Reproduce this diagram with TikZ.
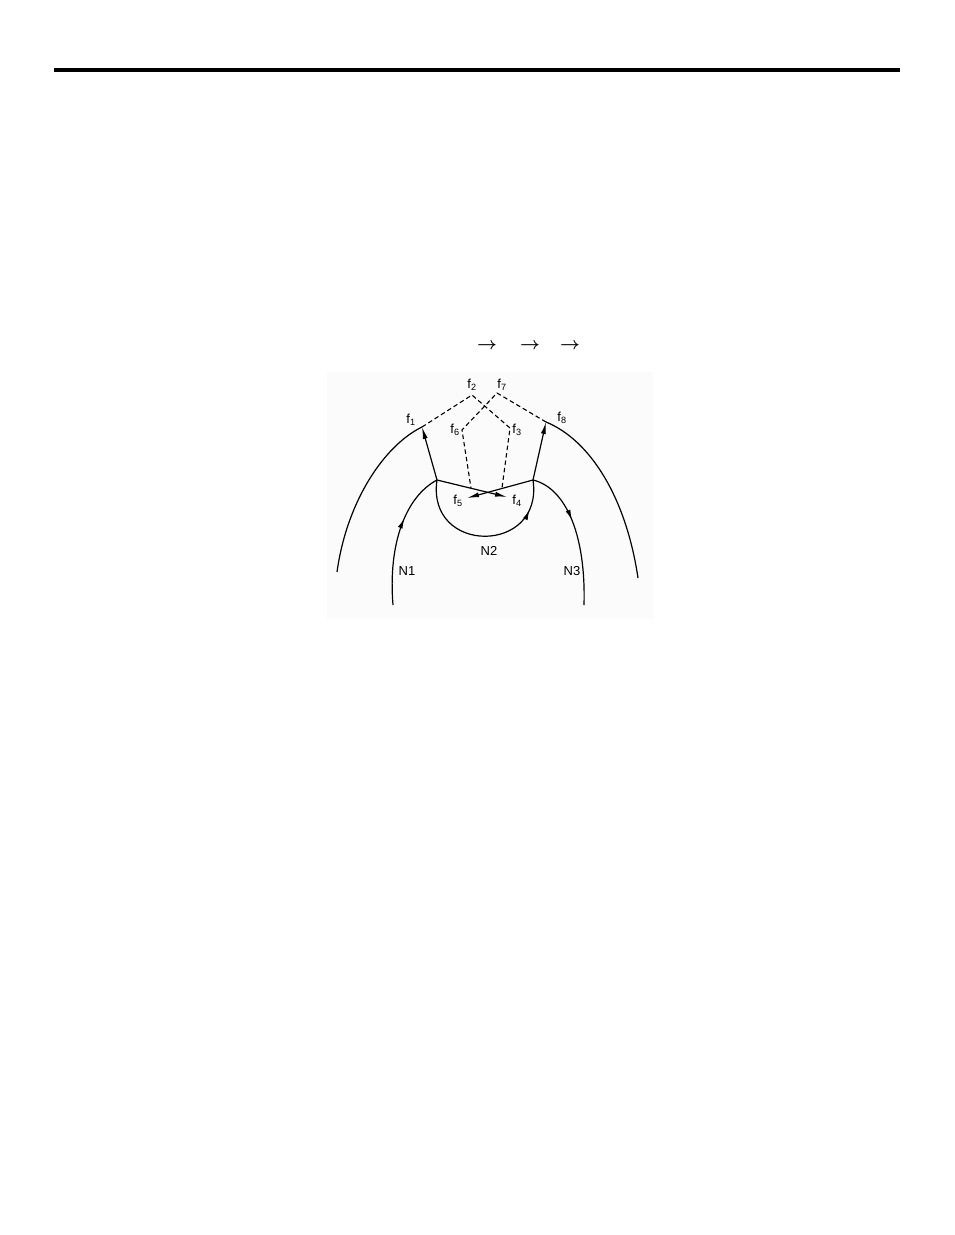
\documentclass[tikz,border=0pt]{standalone}
\usepackage{fontspec}
\usepackage{amsmath}
\setmainfont{Liberation Sans}
\usetikzlibrary{arrows.meta,decorations.markings}
\definecolor{paneGray}{RGB}{251,251,251}

\begin{document}
\begin{tikzpicture}[x=1pt, y=-1pt,
    midarrow/.style={postaction={decorate}, decoration={markings, mark=at position #1 with {\arrow{Latex[length=10pt,width=5pt]}}}}]
  \tikzstyle{curve} = [line width=1.2pt]
  \tikzstyle{vec} = [line width=1.2pt, -{Latex[length=12pt,width=5pt]}]
  \tikzstyle{ghost} = [line width=1.1pt, dash pattern=on 4.5pt off 3pt]
  \tikzstyle{lbl} = [inner sep=0pt, font=\fontsize{13}{14}\selectfont]
  \tikzstyle{head} = [inner sep=0pt, font=\fontsize{16}{16}\selectfont]

  \useasboundingbox (0,0) rectangle (954,1235);
  \fill[paneGray] (327,372) rectangle (653,619);
  \draw[line width=4pt] (54,69.5) -- (900,69.5);

  % arrows above the figure
  \node[head] (a1) at (487,346) {$\boldsymbol{\rightarrow}$};
  \node[head] (a2) at (530,346) {$\boldsymbol{\rightarrow}$};
  \node[head] (a3) at (570,346) {$\boldsymbol{\rightarrow}$};

  % points
  \coordinate (jl) at (437,480);
  \coordinate (jr) at (533,480);
  \coordinate (p1) at (422,427);
  \coordinate (p2) at (472,395);
  \coordinate (p3) at (510,428);
  \coordinate (p4) at (507,497);
  \coordinate (p5) at (467,498);
  \coordinate (p6) at (462,430);
  \coordinate (p7) at (497,393);
  \coordinate (p8) at (546,422);
  \coordinate (d3) at (502,488);
  \coordinate (d6) at (471,488);
  \coordinate (o1) at (337,572);
  \coordinate (o3) at (638,578);
  \coordinate (n1) at (393,605);
  \coordinate (n3) at (584,605);

  % outer arcs
  \draw[curve] (o1) .. controls (347,500) and (385,445) .. (p1);
  \draw[curve] (p8) .. controls (590,440) and (626,497) .. (o3);

  % N1, N2, N3
  \draw[curve, midarrow=0.63] (n1) .. controls (388,545) and (405,497) .. (jl);
  \draw[curve, midarrow=0.82] (jl) .. controls (426,555) and (544,555) .. (jr);
  \draw[curve, midarrow=0.4] (jr) .. controls (566,488) and (586,535) .. (n3);

  % solid vectors
  \draw[vec] (jl) -- (p1);
  \draw[vec] (jr) -- (p8);
  \draw[vec] (jl) -- (p4);
  \draw[vec] (jr) -- (p5);

  % dashed paths
  \draw[ghost] (p1) -- (p2) -- (p3) -- (d3);
  \draw[ghost] (p8) -- (p7) -- (p6) -- (d6);

  % labels
  \node[lbl] (f1) at (411,420) {f\textsubscript{1}};
  \node[lbl] (f2) at (472,385) {f\textsubscript{2}};
  \node[lbl] (f3) at (517,430) {f\textsubscript{3}};
  \node[lbl] (f4) at (517,501) {f\textsubscript{4}};
  \node[lbl] (f5) at (458,501) {f\textsubscript{5}};
  \node[lbl] (f6) at (455,430) {f\textsubscript{6}};
  \node[lbl] (f7) at (502,385) {f\textsubscript{7}};
  \node[lbl] (f8) at (562,418) {f\textsubscript{8}};
  \node[lbl] (N1) at (407,571) {N1};
  \node[lbl] (N2) at (489,551) {N2};
  \node[lbl] (N3) at (572,571) {N3};
\end{tikzpicture}
\end{document}
